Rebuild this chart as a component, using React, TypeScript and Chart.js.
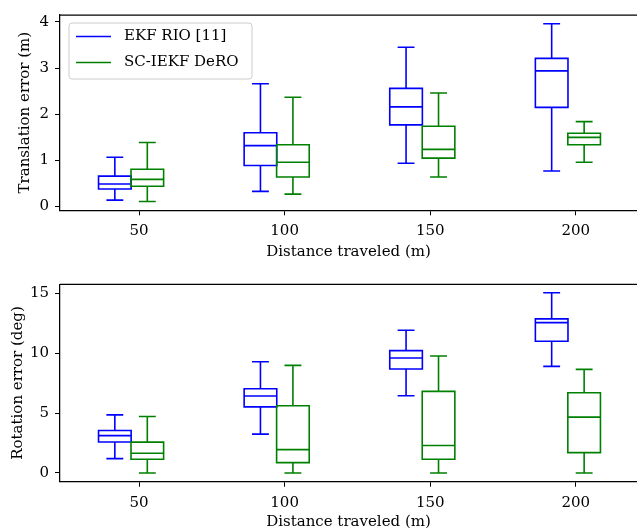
import React, { useEffect, useRef } from "react";
import { Chart, registerables } from "chart.js";

Chart.register(...registerables);

// ---- data ----
const distances = [50, 100, 150, 200];
const xTickLabels = ["50", "100", "150", "200"];
const seriesNames = ["EKF RIO [11]", "SC-IEKF DeRO"];
const seriesColors = ["#0000ff", "#008000"];

// each entry: [lower whisker, Q1, median, Q3, upper whisker]
const ekfTranslation = [
  [0.14, 0.38, 0.49, 0.66, 1.07],
  [0.33, 0.89, 1.32, 1.6, 2.66],
  [0.94, 1.77, 2.16, 2.56, 3.45],
  [0.77, 2.15, 2.94, 3.21, 3.96],
];
const deroTranslation = [
  [0.11, 0.44, 0.59, 0.81, 1.39],
  [0.27, 0.64, 0.96, 1.34, 2.37],
  [0.64, 1.05, 1.24, 1.74, 2.46],
  [0.96, 1.34, 1.5, 1.59, 1.84],
];
const ekfRotation = [
  [1.2, 2.59, 3.12, 3.54, 4.85],
  [3.24, 5.52, 6.42, 7.03, 9.29],
  [6.44, 8.68, 9.6, 10.21, 11.91],
  [8.9, 10.99, 12.55, 12.86, 15.04],
];
const deroRotation = [
  [0.0, 1.15, 1.65, 2.57, 4.71],
  [0.0, 0.86, 1.95, 5.61, 8.98],
  [0.0, 1.15, 2.29, 6.81, 9.76],
  [0.0, 1.7, 4.66, 6.69, 8.65],
];
const translationTicks = [0, 1, 2, 3, 4];
const rotationTicks = [0, 5, 10, 15];

// ---- layout constants (x offsets in data units) ----
const seriesOffsets = [-8.3, 2.85];
const boxHalf = 5.6;
const capHalf = 2.9;
const FONT = "'DejaVu Serif', serif";

const boxPlugin = {
  id: "boxDraw",
  afterDatasetsDraw(chart: any) {
    const ctx = chart.ctx;
    const xs = chart.scales.x;
    const ys = chart.scales.y;
    ctx.save();
    chart.data.datasets.forEach((ds: any) => {
      ctx.strokeStyle = ds.borderColor;
      ctx.lineWidth = 1.6;
      ds.stats.forEach((s: number[], i: number) => {
        const cx = ds.data[i].x;
        const xl = xs.getPixelForValue(cx - boxHalf);
        const xr = xs.getPixelForValue(cx + boxHalf);
        const xc = xs.getPixelForValue(cx);
        const cl = xs.getPixelForValue(cx - capHalf);
        const cr = xs.getPixelForValue(cx + capHalf);
        const [lo, q1, med, q3, hi] = s.map((v) => ys.getPixelForValue(v));
        ctx.beginPath();
        ctx.rect(xl, q3, xr - xl, q1 - q3);
        ctx.moveTo(xl, med);
        ctx.lineTo(xr, med);
        ctx.moveTo(xc, q1);
        ctx.lineTo(xc, lo);
        ctx.moveTo(xc, q3);
        ctx.lineTo(xc, hi);
        ctx.moveTo(cl, lo);
        ctx.lineTo(cr, lo);
        ctx.moveTo(cl, hi);
        ctx.lineTo(cr, hi);
        ctx.stroke();
      });
    });
    // top spine
    const { left, right, top } = chart.chartArea;
    ctx.strokeStyle = "#000";
    ctx.lineWidth = 1.25;
    ctx.beginPath();
    ctx.moveTo(left, top);
    ctx.lineTo(right, top);
    ctx.stroke();
    ctx.restore();
  },
};

const legendPlugin = {
  id: "boxLegend",
  afterDraw(chart: any, _args: any, opts: any) {
    if (!opts || !opts.show) return;
    const ctx = chart.ctx;
    const { left, top } = chart.chartArea;
    const x = left + 9;
    const y = top + 8;
    const w = 183;
    const h = 56;
    const r = 3;
    ctx.save();
    ctx.beginPath();
    ctx.moveTo(x + r, y);
    ctx.lineTo(x + w - r, y);
    ctx.arcTo(x + w, y, x + w, y + r, r);
    ctx.lineTo(x + w, y + h - r);
    ctx.arcTo(x + w, y + h, x + w - r, y + h, r);
    ctx.lineTo(x + r, y + h);
    ctx.arcTo(x, y + h, x, y + h - r, r);
    ctx.lineTo(x, y + r);
    ctx.arcTo(x, y, x + r, y, r);
    ctx.closePath();
    ctx.fillStyle = "rgba(255,255,255,0.8)";
    ctx.fill();
    ctx.strokeStyle = "#cccccc";
    ctx.lineWidth = 1;
    ctx.stroke();
    chart.data.datasets.forEach((ds: any, i: number) => {
      const ry = y + 13.5 + i * 26;
      ctx.strokeStyle = ds.borderColor;
      ctx.lineWidth = 1.6;
      ctx.beginPath();
      ctx.moveTo(x + 7, ry);
      ctx.lineTo(x + 42, ry);
      ctx.stroke();
      ctx.fillStyle = "#000";
      ctx.font = `15px ${FONT}`;
      ctx.textBaseline = "middle";
      ctx.textAlign = "left";
      ctx.fillText(ds.label, x + 55, ry);
    });
    ctx.restore();
  },
};

function makeConfig(
  ekf: number[][],
  dero: number[][],
  yMin: number,
  yMax: number,
  yTicks: number[],
  yTitle: string,
  yTitlePad: number,
  topPad: number,
  xAxisHeight: number,
  xTitlePad: number,
  showLegend: boolean
): any {
  const tickFont = { family: FONT, size: 15 };
  const mk = (stats: number[][], idx: number) => ({
    label: seriesNames[idx],
    borderColor: seriesColors[idx],
    backgroundColor: seriesColors[idx],
    stats,
    data: distances.map((d, i) => ({ x: d + seriesOffsets[idx], y: stats[i][2] })),
    pointRadius: 0,
    showLine: false,
  });
  return {
    type: "scatter",
    data: { datasets: [mk(ekf, 0), mk(dero, 1)] },
    plugins: [boxPlugin, legendPlugin],
    options: {
      animation: false,
      responsive: false,
      events: [],
      layout: { padding: { top: topPad, left: 0, right: 0, bottom: 0 } },
      plugins: {
        legend: { display: false },
        tooltip: { enabled: false },
        boxLegend: { show: showLegend },
      },
      scales: {
        x: {
          type: "linear",
          min: 22.87,
          max: 221,
          afterFit: (s: any) => {
            s.height = xAxisHeight;
          },
          afterBuildTicks: (s: any) => {
            s.ticks = distances.map((v) => ({ value: v }));
          },
          ticks: {
            font: tickFont,
            color: "#000",
            padding: 7,
            maxRotation: 0,
            callback: (v: number) => xTickLabels[distances.indexOf(v)] ?? "",
          },
          grid: { display: true, drawOnChartArea: false, drawTicks: true, tickLength: 5, color: "#000", lineWidth: 1 },
          border: { display: true, color: "#000", width: 1.25 },
          title: {
            display: true,
            text: "Distance traveled (m)",
            font: tickFont,
            color: "#000",
            padding: { top: 0, bottom: xTitlePad },
          },
        },
        y: {
          type: "linear",
          min: yMin,
          max: yMax,
          afterFit: (s: any) => {
            s.width = 60;
          },
          afterBuildTicks: (s: any) => {
            s.ticks = yTicks.map((v) => ({ value: v }));
          },
          ticks: { font: tickFont, color: "#000", padding: 6 },
          grid: { display: true, drawOnChartArea: false, drawTicks: true, tickLength: 5, color: "#000", lineWidth: 1 },
          border: { display: true, color: "#000", width: 1.25 },
          title: {
            display: true,
            text: yTitle,
            font: tickFont,
            color: "#000",
            padding: { top: yTitlePad, bottom: 0 },
          },
        },
      },
    },
  };
}

function Panel(props: { cfg: () => any; top: number; height: number }) {
  const ref = useRef<HTMLCanvasElement | null>(null);
  useEffect(() => {
    if (!ref.current) return;
    const chart = new Chart(ref.current, props.cfg());
    return () => chart.destroy();
  }, []);
  return (
    <canvas
      ref={ref}
      width={637}
      height={props.height}
      style={{ position: "absolute", left: 0, top: props.top, width: 637, height: props.height }}
    />
  );
}

export default function App() {
  return (
    <div style={{ position: "absolute", left: 0, top: 0, width: 637, height: 531, background: "#fff", overflow: "hidden" }}>
      <Panel
        top={0}
        height={266}
        cfg={() =>
          makeConfig(ekfTranslation, deroTranslation, -0.08, 4.15, translationTicks, "Translation error (m)", 16.5, 13, 55.7, 5, true)
        }
      />
      <Panel
        top={266}
        height={265}
        cfg={() =>
          makeConfig(ekfRotation, deroRotation, -0.73, 15.75, rotationTicks, "Rotation error (deg)", 9, 18.3, 49.3, 0, false)
        }
      />
    </div>
  );
}
